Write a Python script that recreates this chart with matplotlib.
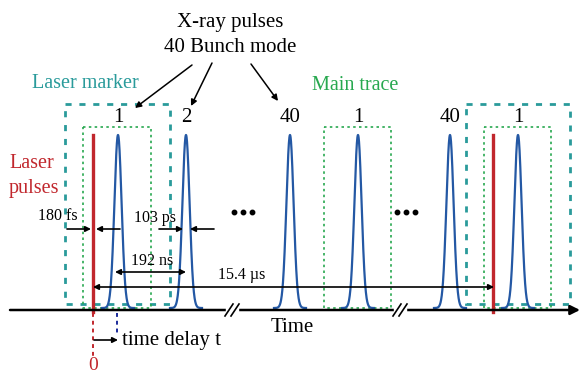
import numpy as np
import matplotlib
matplotlib.use("Agg")
import matplotlib.pyplot as plt
from matplotlib.patches import Rectangle

plt.rcParams['font.family'] = ['Liberation Serif', 'DejaVu Serif']

# Timeline schematic (time axis in arbitrary drawing units)
pulse_t = [118, 186, 290, 358, 450, 518]
pulse_labels = ['1', '2', '40', '1', '40', '1']
laser_t = [93, 493]
marker_boxes = [(65, 170), (466, 570)]
trace_boxes = [(83, 151), (324, 391), (484, 551)]
break_t = [232, 400]
dots_t = [243, 406]

TEAL = '#2a9b9b'
GREEN = '#27a84f'
RED = '#c1272d'
BLUE = '#2458a4'

base_y = 310
peak_y = 135
sigma = 3.6

fig = plt.figure(figsize=(5.81, 3.75), dpi=100)
ax = fig.add_axes([0, 0, 1, 1])
ax.set_xlim(0, 581)
ax.set_ylim(375, 0)
ax.axis('off')

# time axis
ax.annotate('', xy=(580, base_y), xytext=(10, base_y),
            arrowprops=dict(arrowstyle='-|>', lw=1.8, color='black',
                            mutation_scale=14, shrinkA=0, shrinkB=0))
for b in break_t:
    ax.fill_between([b - 6, b + 6], base_y - 4, base_y + 4, color='white', zorder=3)
    for dx in (-3, 3):
        ax.plot([b + dx - 4, b + dx + 4], [base_y + 6, base_y - 6], color='black', lw=1.2, zorder=4)

# X-ray pulses
for t, lab in zip(pulse_t, pulse_labels):
    x = np.linspace(t - 16, t + 16, 300)
    y = base_y - 2 - (base_y - 2 - peak_y) * np.exp(-0.5 * ((x - t) / sigma) ** 2)
    ax.plot(x, y, color=BLUE, lw=1.6, zorder=2)
    ax.text(t, 118, lab, ha='center', va='center', fontsize=15)

# laser pulses
for t in laser_t:
    ax.plot([t, t], [peak_y, base_y + 2], color=RED, lw=2.4, zorder=2)

# laser marker and main-trace windows
for l, r in marker_boxes:
    ax.add_patch(Rectangle((l, 104), r - l, base_y - 6 - 104, fill=False,
                           ec=TEAL, lw=2.0, ls=(0, (2.2, 2.8))))
for l, r in trace_boxes:
    ax.add_patch(Rectangle((l, 127), r - l, base_y - 2 - 127, fill=False,
                           ec=GREEN, lw=1.2, ls=(0, (1.5, 2))))

# labels
ax.text(230, 22, 'X-ray pulses', ha='center', va='center', fontsize=15)
ax.text(230, 47, '40 Bunch mode', ha='center', va='center', fontsize=15)
ax.text(85, 83, 'Laser marker', ha='center', va='center', fontsize=14.5, color=TEAL)
ax.text(355, 86, 'Main trace', ha='center', va='center', fontsize=14.5, color=GREEN)
ax.text(9, 163, 'Laser', ha='left', va='center', fontsize=14.5, color=RED)
ax.text(9, 188, 'pulses', ha='left', va='center', fontsize=14.5, color=RED)
ax.text(292, 327, 'Time', ha='center', va='center', fontsize=15)

for x0, y0, x1, y1 in [(192, 65, 135, 108), (212, 63, 191, 106), (251, 64, 278, 101)]:
    ax.annotate('', xy=(x1, y1), xytext=(x0, y0),
                arrowprops=dict(arrowstyle='-|>', lw=1.1, color='black',
                                mutation_scale=9, shrinkA=0, shrinkB=0))

arrow_kw = dict(arrowstyle='-|>', lw=1.2, color='black', mutation_scale=8, shrinkA=0, shrinkB=0)
dbl_kw = dict(arrowstyle='<|-|>', lw=1.2, color='black', mutation_scale=8, shrinkA=0, shrinkB=0)

# 180 fs
ax.text(58, 216, '180 fs', ha='center', va='center', fontsize=11.5)
ax.annotate('', xy=(91, 229), xytext=(67, 229), arrowprops=arrow_kw)
ax.annotate('', xy=(96, 229), xytext=(120, 229), arrowprops=arrow_kw)
# 103 ps
ax.text(155, 218, '103 ps', ha='center', va='center', fontsize=11.5)
ax.annotate('', xy=(183, 229), xytext=(159, 229), arrowprops=arrow_kw)
ax.annotate('', xy=(190, 229), xytext=(214, 229), arrowprops=arrow_kw)
# 192 ns
ax.text(152, 261, '192 ns', ha='center', va='center', fontsize=11.5)
ax.annotate('', xy=(186, 272), xytext=(115, 272), arrowprops=dbl_kw)
# 15.4 us
ax.text(242, 275, '15.4 µs', ha='center', va='center', fontsize=11.5)
ax.annotate('', xy=(494, 287), xytext=(93, 287), arrowprops=dbl_kw)

for t in dots_t:
    ax.plot([t - 9, t, t + 9], [212, 212, 212], 'o', color='black', ms=3.2)

# time zero and delay
ax.plot([93, 93], [base_y + 3, 358], color=RED, lw=1.4, ls=(0, (2, 2)))
ax.text(93, 366, '0', ha='center', va='center', fontsize=14, color=RED)
ax.plot([117, 117], [base_y + 3, 335], color='#1a2a9a', lw=1.4, ls=(0, (2, 2)))
ax.annotate('', xy=(118, 340), xytext=(94, 340), arrowprops=arrow_kw)
ax.text(122, 340, 'time delay t', ha='left', va='center', fontsize=15)

fig.savefig('out.png', dpi=100)
